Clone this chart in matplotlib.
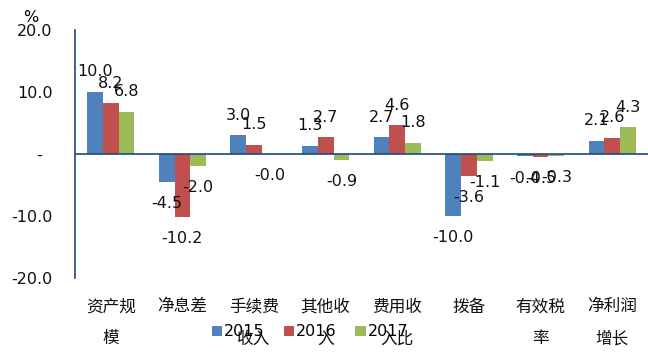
import matplotlib
matplotlib.use('Agg')
import matplotlib.pyplot as plt
import numpy as np

plt.rcParams['font.family'] = ['DejaVu Sans', 'Noto Sans CJK SC']
plt.rcParams['axes.unicode_minus'] = False

categories = ['资产规\n模', '净息差', '手续费\n收入', '其他收\n入', '费用收\n入比',
              '拨备', '有效税\n率', '净利润\n增长']
years = ['2015', '2016', '2017']
v2015 = [10.0, -4.5, 3.0, 1.3, 2.7, -10.0, -0.4, 2.1]
v2016 = [8.2, -10.2, 1.5, 2.7, 4.6, -3.6, -0.5, 2.6]
v2017 = [6.8, -2.0, -0.04, -0.9, 1.8, -1.1, -0.3, 4.3]
yticks = [-20, -10, 0, 10, 20]
ytick_labels = ['-20.0', '-10.0', '-  ', '10.0', '20.0']

colors = ['#4F81BD', '#C0504D', '#9BBB59']
navy = '#1F497D'

fig = plt.figure(figsize=(6.48, 3.54), dpi=100)
ax = fig.add_axes([75 / 648, 1 - 278 / 354, 573 / 648, 248 / 354])

x = np.arange(len(categories))
width = 0.22
series = [v2015, v2016, v2017]
for i, (vals, year, c) in enumerate(zip(series, years, colors)):
    pos = x + (i - 1) * width
    ax.bar(pos, vals, width, color=c, label=year, zorder=2)
    for px, v in zip(pos, vals):
        off = 14.5 if v >= 0 else -15.5
        ax.annotate(f'{v:.1f}', (px, v), xytext=(0, off), textcoords='offset points',
                    ha='center', va='center', fontsize=11.5, color='#111111', zorder=3)

ax.set_xlim(-0.5, len(categories) - 0.5)
ax.set_ylim(-20, 20)
ax.set_yticks(yticks)
ax.set_yticklabels(ytick_labels, fontsize=11.5, color='#111111')
ax.set_xticks(x)
ax.set_xticklabels(categories, fontsize=12, linespacing=2.0, color='#111111')
ax.tick_params(axis='y', length=0, pad=16)
ax.tick_params(axis='x', length=0, pad=14)

ax.axhline(0, color=navy, lw=1.2, zorder=4)
for s in ['top', 'right', 'bottom']:
    ax.spines[s].set_visible(False)
ax.spines['left'].set_color(navy)
ax.spines['left'].set_linewidth(1.2)

fig.text(31 / 648, 1 - 17 / 354, '%', fontsize=11.5, ha='center', va='center')

handles, labels = ax.get_legend_handles_labels()
fig.legend(handles, labels, loc='center', bbox_to_anchor=(310 / 648, 1 - 332 / 354),
           ncol=3, frameon=False, fontsize=11.5, handlelength=0.65, handleheight=0.65,
           handletextpad=0.1, columnspacing=1.2)

fig.savefig('out.png', dpi=100)
